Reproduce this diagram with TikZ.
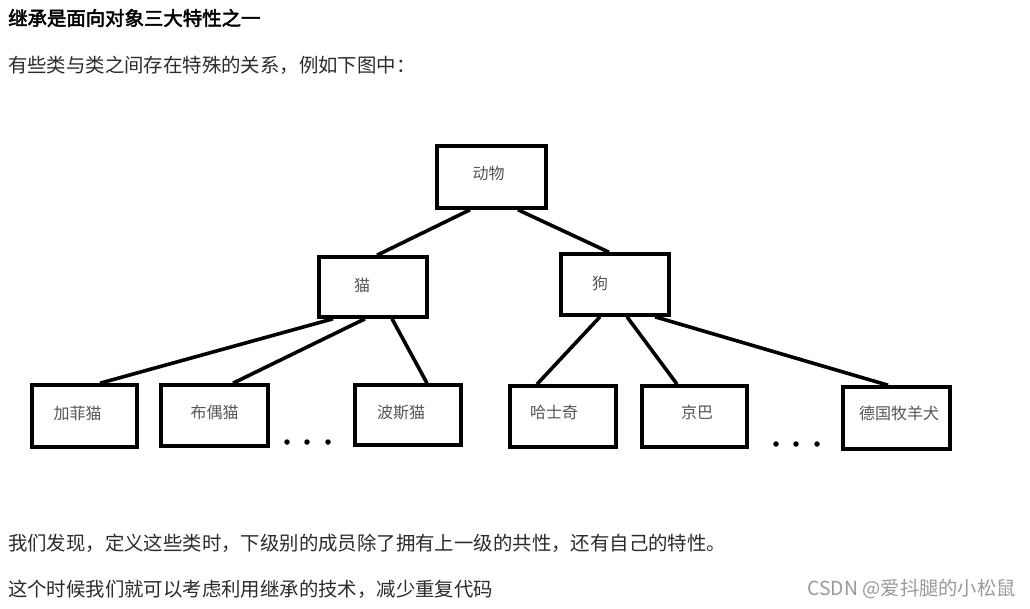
\documentclass[tikz,border=0pt]{standalone}
\usepackage{fontspec}
\newfontfamily\cjk{Noto Sans CJK SC}
\newfontfamily\cjkb[FakeBold=2.5]{Noto Sans CJK SC}
\usetikzlibrary{calc}
\definecolor{bodytext}{HTML}{2B2B2B}
\definecolor{boxtext}{HTML}{555555}
\definecolor{wm}{HTML}{9A9A9A}
\tikzset{
  box/.style={draw=black, line width=3.6pt, inner sep=0pt, minimum width=#1, minimum height=61pt},
  box/.default=107pt,
  boxlabel/.style={font=\cjk\fontsize{16}{16}\selectfont, text=boxtext},
  link/.style={line width=3.6pt, line cap=butt},
  para/.style={anchor=west, inner sep=0pt, font=\cjk\fontsize{19.4}{20}\selectfont, text=bodytext},
  dotmark/.style={circle, fill=black, inner sep=0pt, minimum size=5.5pt},
}
\begin{document}
\begin{tikzpicture}[x=1pt,y=-1pt]
\useasboundingbox (0,0) rectangle (1030,608);
\fill[white] (0,0) rectangle (1030,608);

% texts
\node[para, font=\cjkb\fontsize{19.4}{20}\selectfont, text=black] (title) at (8,18) {继承是面向对象三大特性之一};
\node[para] (intro) at (8,65) {有些类与类之间存在特殊的关系，例如下图中：};
\node[para] (l1) at (8,543) {我们发现，定义这些类时，下级别的成员除了拥有上一级的共性，还有自己的特性。};
\node[para] (l2) at (8,589) {这个时候我们就可以考虑利用继承的技术，减少重复代码};
\node[anchor=east, inner sep=0pt, font=\cjk\fontsize{19.3}{20}\selectfont, text=wm] (wmk) at (1016,589) {CSDN @爱抖腿的小松鼠};

% boxes
\node[box=109pt, minimum height=62pt, label={[boxlabel, xshift=-3pt, yshift=4pt]center:动物}] (dw) at (491.5,177) {};
\node[box=108pt, minimum height=60pt, label={[boxlabel, xshift=-11pt, yshift=2pt]center:猫}] (mao) at (373,287) {};
\node[box=108pt, label={[boxlabel, xshift=-15pt, yshift=1.5pt]center:狗}] (gou) at (615,284.5) {};
\node[box=105pt, minimum height=62pt, label={[boxlabel, xshift=-7pt, yshift=3pt]center:加菲猫}] (jf) at (84.5,416) {};
\node[box=107pt, label={[boxlabel, xshift=0pt, yshift=3pt]center:布偶猫}] (bo) at (214.5,415.5) {};
\node[box=106pt, minimum height=60pt, label={[boxlabel, xshift=-7pt, yshift=2pt]center:波斯猫}] (bs) at (408,415) {};
\node[box=106pt, label={[boxlabel, xshift=-9pt, yshift=4pt]center:哈士奇}] (hs) at (563,416.5) {};
\node[box=105pt, label={[boxlabel, xshift=2.5pt, yshift=4pt]center:京巴}] (jb) at (694.5,416.5) {};
\node[box=107pt, minimum height=62pt, label={[boxlabel, xshift=2.5pt, yshift=5pt]center:德国牧羊犬}] (dg) at (896.5,418) {};

% connectors
\draw[link] ([xshift=-21.5pt]dw.south) -- ([xshift=4pt]mao.north);
\draw[link] ([xshift=26.5pt]dw.south) -- ([xshift=-6pt]gou.north);
\draw[link] ([xshift=-40pt]mao.south) -- ([xshift=15.5pt]jf.north);
\draw[link] ([xshift=-8pt]mao.south) -- ([xshift=18.5pt]bo.north);
\draw[link] ([xshift=19pt]mao.south) -- ([xshift=19pt]bs.north);
\draw[link] ([xshift=-15pt]gou.south) -- ([xshift=-26pt]hs.north);
\draw[link] ([xshift=12pt]gou.south) -- ([xshift=-17.5pt]jb.north);
\draw[link] ([xshift=40pt]gou.south) -- ([xshift=-8.5pt]dg.north);

% ellipses
\node[dotmark] (d1) at (287,442) {};
\node[dotmark] (d2) at (307,442) {};
\node[dotmark] (d3) at (328,442) {};
\node[dotmark] (d4) at (776,444) {};
\node[dotmark] (d5) at (796,444) {};
\node[dotmark] (d6) at (817,444) {};
\end{tikzpicture}
\end{document}
